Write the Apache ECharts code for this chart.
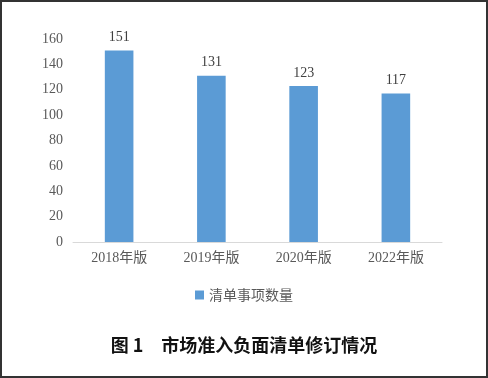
<!DOCTYPE html>
<html>
<head>
<meta charset="utf-8">
<script src="https://cdn.jsdelivr.net/npm/echarts@6/dist/echarts.min.js"></script>
<style>
    html, body { margin: 0; padding: 0; background: #fff; }
    #chart { width: 488px; height: 378px; }
</style>
</head>
<body>
<div id="chart"></div>
<script>
    // 数据
    var categories = ['2018年版', '2019年版', '2020年版', '2022年版'];
    var itemCounts = [151, 131, 123, 117];
    var seriesName = '清单事项数量';
    var figureTitle = '图 1　市场准入负面清单修订情况';

    var serifFont = '"Times New Roman", "Liberation Serif", "Noto Sans CJK SC", serif';

    var myChart = echarts.init(document.getElementById('chart'));

    var option = {
        backgroundColor: '#fff',
        animation: false,
        title: {
            text: figureTitle,
            left: 'center',
            top: 331,
            textStyle: {
                fontFamily: '"Noto Sans CJK SC", sans-serif',
                fontSize: 18,
                fontWeight: 'bold',
                color: '#111'
            }
        },
        legend: {
            data: [seriesName],
            left: 'center',
            top: 283,
            itemWidth: 9,
            itemHeight: 9,
            itemGap: 4,
            icon: 'rect',
            textStyle: {
                fontFamily: '"Noto Sans CJK SC", sans-serif',
                fontSize: 14,
                color: '#595959'
            }
        },
        grid: {
            left: 73,
            right: 46,
            top: 39,
            bottom: 136
        },
        xAxis: {
            type: 'category',
            data: categories,
            axisLine: { lineStyle: { color: '#d9d9d9', width: 1 } },
            axisTick: { show: false },
            axisLabel: {
                margin: 9,
                fontFamily: serifFont,
                fontSize: 14,
                color: '#595959'
            }
        },
        yAxis: {
            type: 'value',
            min: 0,
            max: 160,
            interval: 20,
            splitLine: { show: false },
            axisLine: { show: false },
            axisTick: { show: false },
            axisLabel: {
                margin: 10,
                fontFamily: serifFont,
                fontSize: 14,
                color: '#595959'
            }
        },
        series: [
            {
                name: seriesName,
                type: 'bar',
                data: itemCounts,
                barWidth: '31%',
                itemStyle: { color: '#5b9bd5' },
                label: {
                    show: true,
                    position: 'top',
                    distance: 6,
                    fontFamily: serifFont,
                    fontSize: 14,
                    color: '#404040'
                }
            }
        ],
        graphic: [
            {
                type: 'rect',
                shape: { x: 1, y: 1, width: 486, height: 376 },
                style: { fill: 'none', stroke: '#333', lineWidth: 2 },
                silent: true
            }
        ]
    };

    myChart.setOption(option, true);
</script>
</body>
</html>
